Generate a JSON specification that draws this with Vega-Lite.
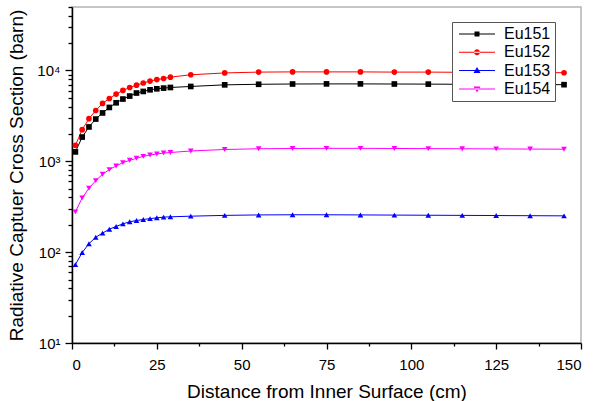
{
  "$schema": "https://vega.github.io/schema/vega-lite/v6.json",
  "width": 509,
  "height": 336,
  "autosize": {"type": "none"},
  "padding": {"left": 72, "top": 7, "right": 14, "bottom": 58},
  "background": "white",
  "config": {
    "font": "Liberation Sans",
    "view": {"stroke": "#b4b4b4", "strokeWidth": 1.5},
    "axis": {"domainColor": "black", "domainWidth": 1.5, "tickColor": "black", "tickWidth": 1.3, "labelFont": "Liberation Sans", "labelFontSize": 15, "labelColor": "black", "titleFont": "Liberation Sans", "titleFontSize": 19, "titleFontWeight": "normal", "titleColor": "black", "grid": false}
  },
  "data": {"values": [
    {"x":1,"s":"Eu151","v":1270},{"x":3,"s":"Eu151","v":1850},{"x":5,"s":"Eu151","v":2390},{"x":7,"s":"Eu151","v":2920},{"x":9,"s":"Eu151","v":3410},{"x":11,"s":"Eu151","v":3920},{"x":13,"s":"Eu151","v":4410},{"x":15,"s":"Eu151","v":4850},{"x":17,"s":"Eu151","v":5230},{"x":19,"s":"Eu151","v":5650},{"x":21,"s":"Eu151","v":5880},{"x":23,"s":"Eu151","v":6130},{"x":25,"s":"Eu151","v":6290},{"x":27,"s":"Eu151","v":6400},{"x":29,"s":"Eu151","v":6500},{"x":35,"s":"Eu151","v":6670},{"x":45,"s":"Eu151","v":6950},{"x":55,"s":"Eu151","v":7050},{"x":65,"s":"Eu151","v":7100},{"x":75,"s":"Eu151","v":7120},{"x":85,"s":"Eu151","v":7120},{"x":95,"s":"Eu151","v":7100},{"x":105,"s":"Eu151","v":7080},{"x":115,"s":"Eu151","v":7050},{"x":125,"s":"Eu151","v":7030},{"x":135,"s":"Eu151","v":7000},{"x":145,"s":"Eu151","v":6980},
    {"x":1,"s":"Eu152","v":1500},{"x":3,"s":"Eu152","v":2230},{"x":5,"s":"Eu152","v":2950},{"x":7,"s":"Eu152","v":3630},{"x":9,"s":"Eu152","v":4340},{"x":11,"s":"Eu152","v":4920},{"x":13,"s":"Eu152","v":5500},{"x":15,"s":"Eu152","v":6030},{"x":17,"s":"Eu152","v":6500},{"x":19,"s":"Eu152","v":6900},{"x":21,"s":"Eu152","v":7280},{"x":23,"s":"Eu152","v":7640},{"x":25,"s":"Eu152","v":7940},{"x":27,"s":"Eu152","v":8160},{"x":29,"s":"Eu152","v":8450},{"x":35,"s":"Eu152","v":8970},{"x":45,"s":"Eu152","v":9400},{"x":55,"s":"Eu152","v":9600},{"x":65,"s":"Eu152","v":9650},{"x":75,"s":"Eu152","v":9650},{"x":85,"s":"Eu152","v":9650},{"x":95,"s":"Eu152","v":9600},{"x":105,"s":"Eu152","v":9600},{"x":115,"s":"Eu152","v":9550},{"x":125,"s":"Eu152","v":9550},{"x":135,"s":"Eu152","v":9500},{"x":145,"s":"Eu152","v":9450},
    {"x":1,"s":"Eu153","v":73},{"x":3,"s":"Eu153","v":99},{"x":5,"s":"Eu153","v":124},{"x":7,"s":"Eu153","v":146},{"x":9,"s":"Eu153","v":162},{"x":11,"s":"Eu153","v":179},{"x":13,"s":"Eu153","v":192},{"x":15,"s":"Eu153","v":205},{"x":17,"s":"Eu153","v":216},{"x":19,"s":"Eu153","v":223},{"x":21,"s":"Eu153","v":229},{"x":23,"s":"Eu153","v":234},{"x":25,"s":"Eu153","v":239},{"x":27,"s":"Eu153","v":243},{"x":29,"s":"Eu153","v":245},{"x":35,"s":"Eu153","v":249},{"x":45,"s":"Eu153","v":254},{"x":55,"s":"Eu153","v":257},{"x":65,"s":"Eu153","v":258},{"x":75,"s":"Eu153","v":258},{"x":85,"s":"Eu153","v":257},{"x":95,"s":"Eu153","v":256},{"x":105,"s":"Eu153","v":255},{"x":115,"s":"Eu153","v":254},{"x":125,"s":"Eu153","v":253},{"x":135,"s":"Eu153","v":252},{"x":145,"s":"Eu153","v":251},
    {"x":1,"s":"Eu154","v":278},{"x":3,"s":"Eu154","v":396},{"x":5,"s":"Eu154","v":505},{"x":7,"s":"Eu154","v":613},{"x":9,"s":"Eu154","v":720},{"x":11,"s":"Eu154","v":811},{"x":13,"s":"Eu154","v":889},{"x":15,"s":"Eu154","v":968},{"x":17,"s":"Eu154","v":1026},{"x":19,"s":"Eu154","v":1080},{"x":21,"s":"Eu154","v":1135},{"x":23,"s":"Eu154","v":1175},{"x":25,"s":"Eu154","v":1205},{"x":27,"s":"Eu154","v":1235},{"x":29,"s":"Eu154","v":1250},{"x":35,"s":"Eu154","v":1300},{"x":45,"s":"Eu154","v":1350},{"x":55,"s":"Eu154","v":1375},{"x":65,"s":"Eu154","v":1385},{"x":75,"s":"Eu154","v":1390},{"x":85,"s":"Eu154","v":1390},{"x":95,"s":"Eu154","v":1385},{"x":105,"s":"Eu154","v":1380},{"x":115,"s":"Eu154","v":1375},{"x":125,"s":"Eu154","v":1370},{"x":135,"s":"Eu154","v":1365},{"x":145,"s":"Eu154","v":1360}
  ]},
  "encoding": {
    "x": {"field": "x", "type": "quantitative", "scale": {"domain": [0, 150], "nice": false},
      "axis": {"title": "Distance from Inner Surface (cm)", "values": [0,12.5,25,37.5,50,62.5,75,87.5,100,112.5,125,137.5,150],
        "labelExpr": "datum.value % 25 == 0 ? datum.label : ''",
        "tickSize": {"condition": {"test": "datum.value % 25 == 0", "value": 6}, "value": 3},
        "labelPadding": 8, "titlePadding": 10}},
    "y": {"field": "v", "type": "quantitative", "scale": {"type": "log", "domain": [10, 50000], "nice": false},
      "axis": {"title": "Radiative Captuer Cross Section (barn)",
        "values": [10,20,30,40,50,60,70,80,90,100,200,300,400,500,600,700,800,900,1000,2000,3000,4000,5000,6000,7000,8000,9000,10000,20000,30000,40000,50000],
        "labelExpr": "datum.value == 10 ? '10¹' : datum.value == 100 ? '10²' : datum.value == 1000 ? '10³' : datum.value == 10000 ? '10⁴' : ''",
        "tickSize": {"condition": {"test": "datum.value == 10 || datum.value == 100 || datum.value == 1000 || datum.value == 10000", "value": 7}, "value": 4},
        "labelPadding": 5, "titlePadding": 10}},
    "color": {"field": "s", "type": "nominal", "scale": {"domain": ["Eu151","Eu152","Eu153","Eu154"], "range": ["#000000","#ff0000","#0000ff","#ff00ff"]}, "legend": null}
  },
  "layer": [
    {"mark": {"type": "line", "strokeWidth": 1}},
    {"mark": {"type": "point", "filled": true, "opacity": 1, "size": 32},
     "encoding": {"shape": {"field": "s", "type": "nominal", "scale": {"domain": ["Eu151","Eu152","Eu153","Eu154"], "range": ["square","circle","triangle-up","triangle-down"]}, "legend": null}}},
    {"transform": [{"filter": "false"}],
     "mark": {"type": "point", "filled": true, "opacity": 1},
     "encoding": {
       "color": {"field": "s", "type": "nominal", "scale": {"domain": ["Eu151","Eu152","Eu153","Eu154"], "range": ["#000000","#ff0000","#0000ff","#ff00ff"]},
        "legend": {"title": null, "orient": "none", "legendX": 380, "legendY": 15, "strokeColor": "#555", "fillColor": "white", "padding": 4,
          "labelFont": "Liberation Sans", "labelFontSize": 16, "labelColor": "black", "symbolSize": 100, "labelOffset": 32, "rowPadding": 2.3}},
       "shape": {"field": "s", "type": "nominal",
        "scale": {"domain": ["Eu151","Eu152","Eu153","Eu154"], "range": [
          "M-1,-0.1H6.2V0.1H-1Z M2.1,-0.5H3.1V0.5H2.1Z",
          "M-1,-0.1H6.2V0.1H-1Z M2,0A0.6,0.6,0,1,0,3.2,0A0.6,0.6,0,1,0,2,0Z",
          "M-1,-0.1H6.2V0.1H-1Z M2.6,-0.7L3.3,0.5L1.9,0.5Z",
          "M-1,-0.1H6.2V0.1H-1Z M2.6,0.7L3.3,-0.5L1.9,-0.5Z"]},
        "legend": {"title": null, "orient": "none", "legendX": 380, "legendY": 15, "strokeColor": "#555", "fillColor": "white", "padding": 4,
          "labelFont": "Liberation Sans", "labelFontSize": 16, "labelColor": "black", "symbolSize": 100, "labelOffset": 32, "rowPadding": 2.3}}}}
  ],
  "resolve": {"scale": {"shape": "independent", "color": "independent"}, "legend": {"shape": "independent", "color": "independent"}}
}
